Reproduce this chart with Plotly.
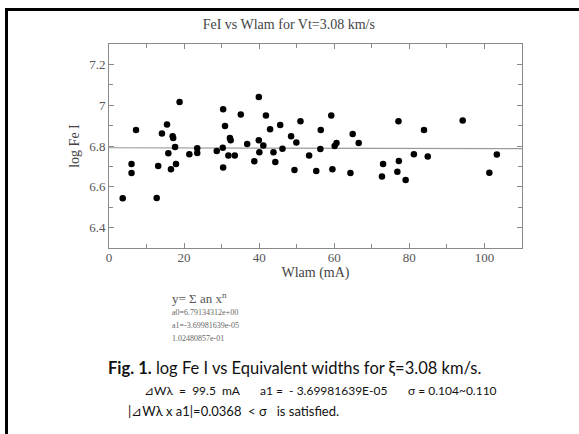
import plotly.graph_objects as go

# Data (Wlam in mA, log Fe I)
wlam = [3.65, 6.0, 6.0, 7.2, 12.7, 13.1, 14.1, 15.45, 15.8, 16.5,
        16.95, 17.1, 17.6, 17.85, 18.8, 21.4, 23.5, 23.5, 28.7, 30.4,
        30.3, 30.4, 30.9, 31.8, 32.2, 32.4, 33.5, 35.1, 36.8, 38.7,
        39.9, 39.9, 40.05, 41.1, 41.8, 42.9, 43.8, 44.3, 45.6, 46.2,
        48.5, 49.4, 49.9, 51.0, 53.3, 55.2, 56.3, 56.4, 59.2, 59.5,
        60.1, 60.6, 64.3, 64.9, 66.5, 72.7, 73.0, 76.8, 77.1, 77.2,
        79.0, 81.2, 83.9, 84.9, 94.2, 101.3, 103.3]
logfe = [6.544, 6.712, 6.668, 6.878, 6.545, 6.702, 6.861, 6.905, 6.764, 6.686,
         6.848, 6.839, 6.795, 6.712, 7.016, 6.759, 6.789, 6.766, 6.776, 6.980,
         6.792, 6.694, 6.898, 6.753, 6.839, 6.828, 6.753, 6.955, 6.810, 6.725,
         7.040, 6.828, 6.769, 6.803, 6.949, 6.882, 6.769, 6.722, 6.903, 6.787,
         6.848, 6.682, 6.817, 6.921, 6.754, 6.677, 6.785, 6.878, 6.950, 6.686,
         6.800, 6.815, 6.668, 6.859, 6.815, 6.650, 6.712, 6.674, 6.921, 6.727,
         6.633, 6.759, 6.878, 6.749, 6.925, 6.669, 6.758]

a0 = 6.79134312
a1 = -3.69981639e-05
fit_x = [0, 110]
fit_y = [a0 + a1 * v for v in fit_x]

x_ticks = [0, 20, 40, 60, 80, 100]
y_ticks = [6.4, 6.6, 6.8, 7.0, 7.2]
y_ticklabels = ["6.4", "6.6", "6.8", "7", "7.2"]

W, H = 579, 434
L, R, T, B = 109, 522, 44, 248

def px(x):
    return (x - L) / (R - L)

def py(y):
    return (B - y) / (B - T)

fig = go.Figure()
fig.add_trace(go.Scatter(x=fit_x, y=fit_y, mode="lines",
                         line=dict(color="#9a9a9a", width=1.2), hoverinfo="skip"))
fig.add_trace(go.Scatter(x=wlam, y=logfe, mode="markers",
                         marker=dict(color="black", size=6.5)))

serif = "Liberation Serif, Times New Roman, serif"
axis_common = dict(showline=True, linecolor="#8a8a8a", linewidth=1, mirror="ticks",
                   ticks="inside", ticklen=5, tickcolor="#8a8a8a", showgrid=False,
                   zeroline=False, tickfont=dict(family=serif, size=13, color="#555"))

fig.update_layout(
    width=W, height=H, margin=dict(l=L, r=W - R, t=T, b=H - B),
    paper_bgcolor="white", plot_bgcolor="white", showlegend=False,
    title=dict(text="FeI vs Wlam for Vt=3.08 km/s", x=px(315), xanchor="center",
               y=1 - 24 / H, yanchor="middle",
               font=dict(family=serif, size=14, color="#444")),
    xaxis=dict(range=[0, 110], tickvals=x_ticks, ticktext=[str(v) for v in x_ticks],
               minor=dict(dtick=10, tick0=0, ticks="inside", ticklen=4, tickcolor="#8a8a8a"),
               ticklabelstandoff=-3,
               title=dict(text="Wlam (mA)", font=dict(family=serif, size=14, color="#444"),
                          standoff=2),
               **axis_common),
    yaxis=dict(range=[6.3, 7.3], tickvals=y_ticks, ticktext=y_ticklabels,
               minor=dict(dtick=0.1, tick0=6.3, ticks="inside", ticklen=4, tickcolor="#8a8a8a"),
               title=dict(text="log Fe I", font=dict(family=serif, size=14, color="#444"),
                          standoff=6),
               **axis_common),
)

def note(text, x, y, size, color="#333", family=serif, anchor="left"):
    fig.add_annotation(text=text, x=px(x), y=py(y), xref="paper", yref="paper",
                       xanchor=anchor, yanchor="middle", showarrow=False,
                       font=dict(family=family, size=size, color=color))

note("y= Σ an x<sup>n</sup>", 170, 298, 13, "#555")
note("a0=6.79134312e+00", 170, 312, 8, "#666")
note("a1=-3.69981639e-05", 170, 325, 8, "#666")
note("1.02480857e-01", 170, 338, 8, "#666")

sans = "Lato, Open Sans, sans-serif"
note("<b>Fig. 1.</b> log Fe I vs Equivalent widths for ξ=3.08 km/s.", 106, 368, 16.5, "#111", sans)
note("⊿Wλ  =  99.5  mA", 142, 390, 12, "#111", sans)
note("a1 =  - 3.69981639E-05", 258, 390, 12, "#111", sans)
note("σ = 0.104~0.110", 406, 390, 12, "#111", sans)
note("|⊿Wλ x a1|=0.0368  &lt; σ   is satisfied.", 126, 411, 13, "#111", sans)

# slide frame
fig.add_shape(type="line", xref="paper", yref="paper", x0=px(6), x1=px(579), y0=py(9.5), y1=py(9.5),
              line=dict(color="black", width=3))
fig.add_shape(type="line", xref="paper", yref="paper", x0=px(6.5), x1=px(6.5), y0=py(8), y1=py(434),
              line=dict(color="black", width=3))

fig.write_html("out.html")
